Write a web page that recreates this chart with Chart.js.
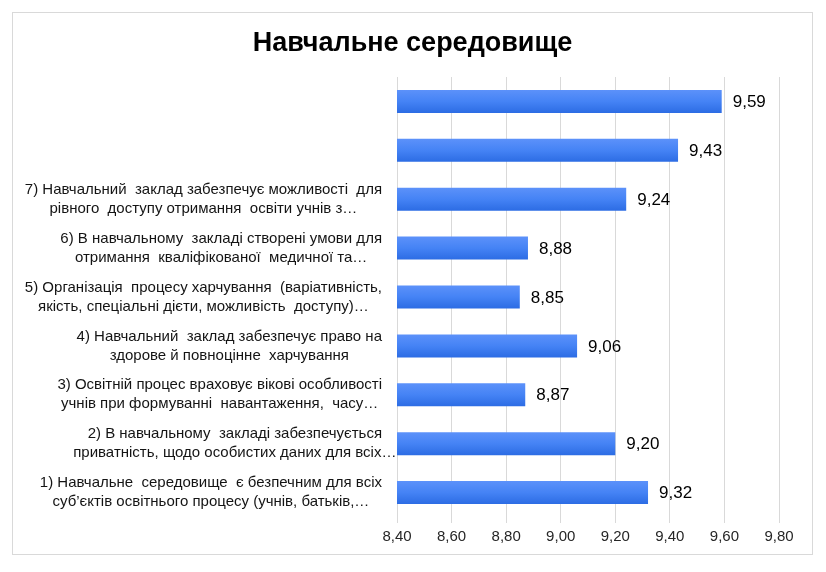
<!DOCTYPE html>
<html>
<head>
<meta charset="utf-8">
<title>Навчальне середовище</title>
<script src="https://cdn.jsdelivr.net/npm/chart.js@4/dist/chart.umd.min.js"></script>
<style>
    html, body { margin: 0; padding: 0; background: #fff; }
    canvas { display: block; }
</style>
</head>
<body>
<canvas id="grafico" width="826" height="572"></canvas>
<script>
var chartTitle = 'Навчальне середовище';

// top to bottom, as in the picture; each label is a list of lines
var categories = [
    [''],
    [''],
    ['7) Навчальний  заклад забезпечує можливості  для', 'рівного  доступу отримання  освіти учнів з…'],
    ['6) В навчальному  закладі створені умови для', 'отримання  кваліфікованої  медичної та…'],
    ['5) Організація  процесу харчування  (варіативність,', 'якість, спеціальні дієти, можливість  доступу)…'],
    ['4) Навчальний  заклад забезпечує право на', 'здорове й повноцінне  харчування'],
    ['3) Освітній процес враховує вікові особливості', 'учнів при формуванні  навантаження,  часу…'],
    ['2) В навчальному  закладі забезпечується', 'приватність, щодо особистих даних для всіх…'],
    ['1) Навчальне  середовище  є безпечним для всіх', 'суб’єктів освітнього процесу (учнів, батьків,…']
];
var values = [9.59, 9.43, 9.24, 8.88, 8.85, 9.06, 8.87, 9.20, 9.32];

var axisMin = 8.40;
var axisMax = 9.80;
var axisStep = 0.20;

var fontFamily = '"Liberation Sans", Arial, sans-serif';

function formatNum(v) {
    return v.toFixed(2).replace('.', ',');
}

// frame round the whole chart + title centred on the page
var framePlugin = {
    id: 'frame',
    beforeDraw: function(chart) {
        var ctx = chart.ctx;
        ctx.save();
        ctx.fillStyle = '#ffffff';
        ctx.fillRect(0, 0, chart.width, chart.height);
        ctx.strokeStyle = '#d9d9d9';
        ctx.lineWidth = 1;
        ctx.strokeRect(12.5, 12.5, 800, 542);
        ctx.font = 'bold 27px ' + fontFamily;
        ctx.fillStyle = '#000000';
        ctx.textAlign = 'center';
        ctx.textBaseline = 'alphabetic';
        ctx.fillText(chartTitle, 412.5, 51);
        ctx.restore();
    }
};

// category labels: block right-aligned, lines centred on the first line
var labelPlugin = {
    id: 'catLabels',
    afterDraw: function(chart) {
        var ctx = chart.ctx;
        var yScale = chart.scales.y;
        var right = 382;
        var lineH = 19;
        ctx.save();
        ctx.font = '15px ' + fontFamily;
        ctx.fillStyle = '#141414';
        ctx.textAlign = 'center';
        ctx.textBaseline = 'middle';
        categories.forEach(function(lines, i) {
            var y = yScale.getPixelForValue(i);
            var w = ctx.measureText(lines[0]).width;
            var cx = right - w / 2;
            var y0 = y - (lines.length - 1) * lineH / 2;
            lines.forEach(function(line, j) {
                ctx.fillText(line, cx, y0 + j * lineH);
            });
        });
        ctx.restore();
    }
};

// value labels at the end of each bar
var valuePlugin = {
    id: 'valueLabels',
    afterDatasetsDraw: function(chart) {
        var ctx = chart.ctx;
        var meta = chart.getDatasetMeta(0);
        ctx.save();
        ctx.font = '17px ' + fontFamily;
        ctx.fillStyle = '#000000';
        ctx.textAlign = 'left';
        ctx.textBaseline = 'middle';
        meta.data.forEach(function(bar, i) {
            ctx.fillText(formatNum(values[i]), bar.x + 11, bar.y + 1);
        });
        ctx.restore();
    }
};

function barGradient(c) {
    var chart = c.chart;
    if (!chart.chartArea || !chart.scales.y) {
        return '#4583f5';
    }
    var y = chart.scales.y.getPixelForValue(c.dataIndex);
    var g = chart.ctx.createLinearGradient(0, y - 12, 0, y + 12);
    g.addColorStop(0, '#5d92fa');
    g.addColorStop(0.5, '#4583f5');
    g.addColorStop(1, '#2b6be3');
    return g;
}

var grafico = new Chart(document.getElementById('grafico'), {
    type: 'bar',
    data: {
        labels: categories,
        datasets: [{
            data: values,
            backgroundColor: barGradient,
            borderWidth: 0,
            barPercentage: 0.47,
            categoryPercentage: 1.0
        }]
    },
    options: {
        indexAxis: 'y',
        responsive: false,
        animation: false,
        devicePixelRatio: 1,
        layout: {
            padding: { left: 12, right: 47, top: 77, bottom: 0 }
        },
        plugins: {
            legend: { display: false },
            tooltip: { enabled: false },
            title: { display: false }
        },
        scales: {
            x: {
                min: axisMin,
                max: axisMax,
                border: { display: false },
                grid: {
                    color: '#d9d9d9',
                    lineWidth: 1,
                    drawTicks: true,
                    tickLength: 6
                },
                ticks: {
                    stepSize: axisStep,
                    padding: 5,
                    color: '#262626',
                    font: { family: fontFamily, size: 15 },
                    callback: function(v) { return formatNum(v); }
                },
                afterFit: function(scale) { scale.height = 55; }
            },
            y: {
                border: { display: false },
                grid: { display: false },
                ticks: { display: false },
                afterFit: function(scale) { scale.width = 385; }
            }
        }
    },
    plugins: [framePlugin, labelPlugin, valuePlugin]
});
</script>
</body>
</html>
